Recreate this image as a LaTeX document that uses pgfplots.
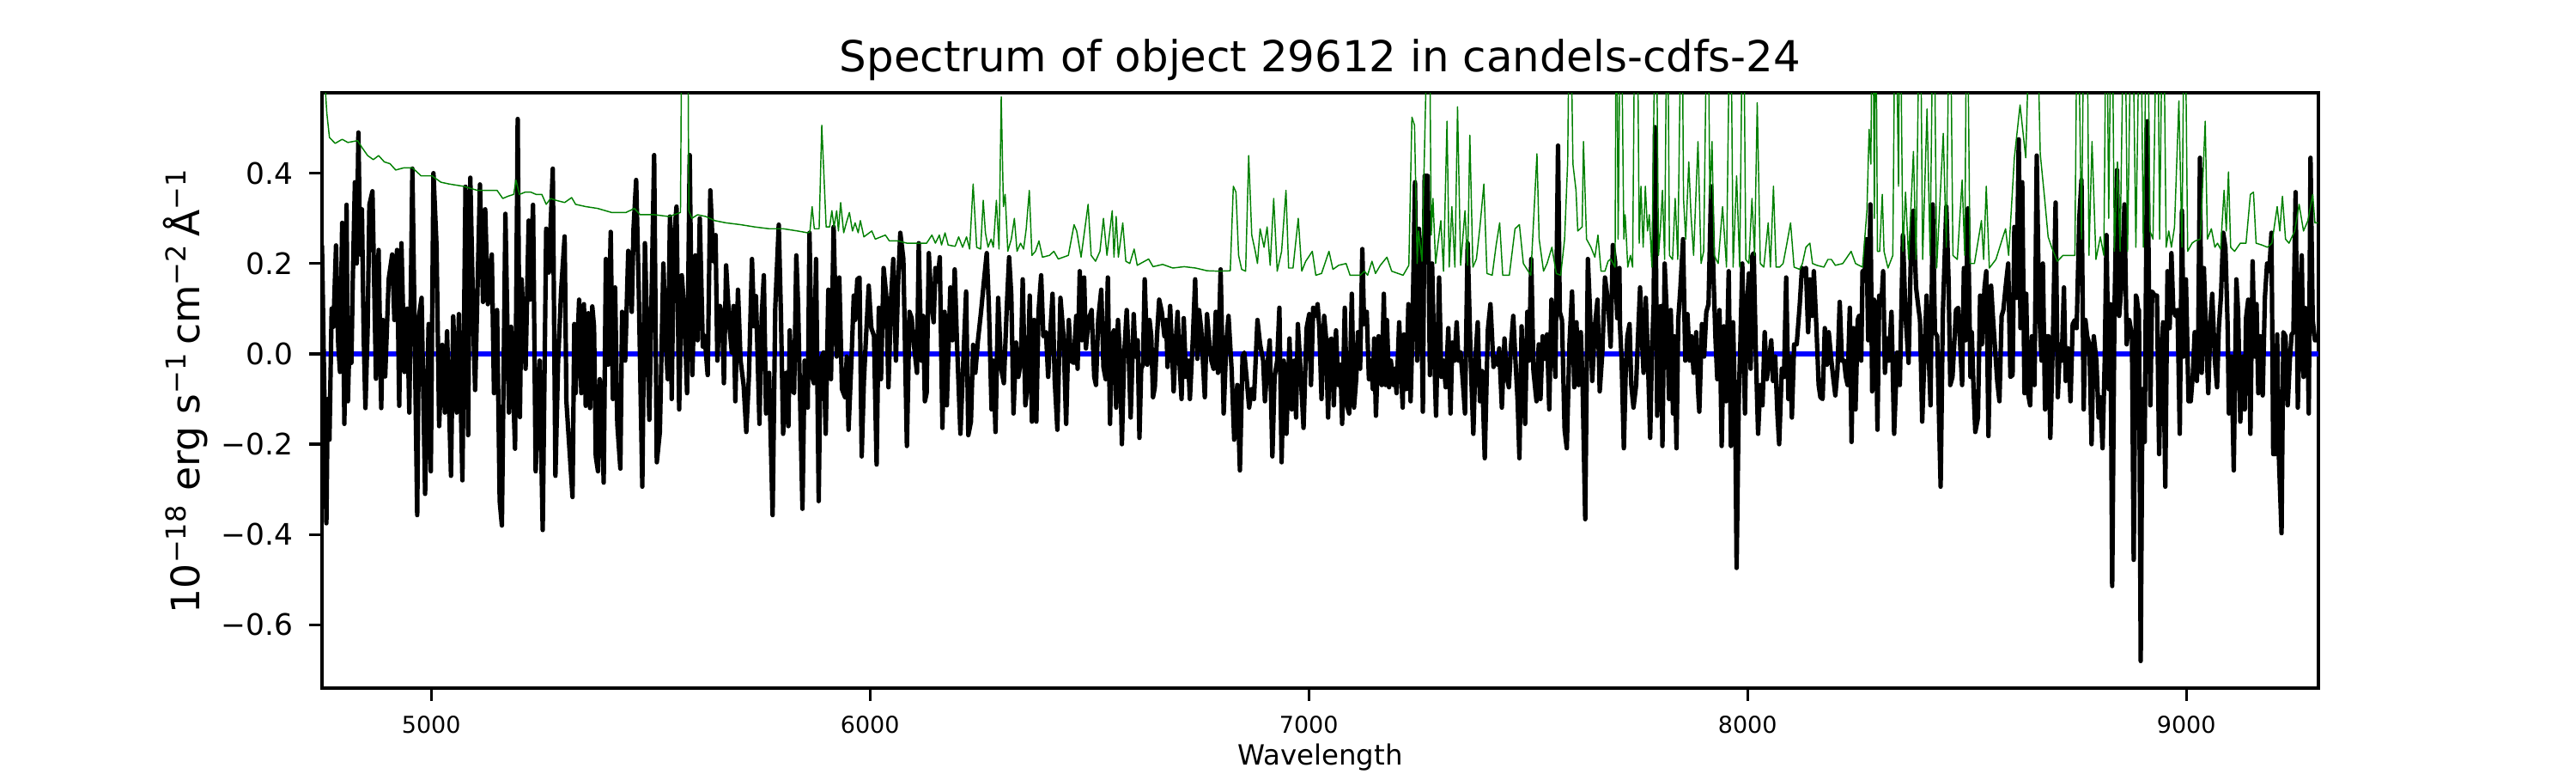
\documentclass[border=0pt]{standalone}
\usepackage{fontspec}
\setmainfont{DejaVu Sans}
\usepackage{pgfplots}
\pgfplotsset{compat=1.18}
\definecolor{mplgreen}{RGB}{0,128,0}
\definecolor{mplblue}{RGB}{0,0,255}
\begin{document}
\begin{tikzpicture}
\begin{axis}[
  at={(0,0)}, anchor=south west,
  scale only axis, width=7.75in, height=2.31in,
  xmin=4751, xmax=9301, ymin=-0.740, ymax=0.578,
  axis line style={line width=0.8pt},
  tick style={line width=0.8pt, black},
  major tick length=3.5pt, tick align=outside,
  xtick pos=bottom, ytick pos=left,
  xtick={5000,6000,7000,8000,9000},
  xticklabels={5000,6000,7000,8000,9000},
  ytick={-0.6,-0.4,-0.2,0,0.2,0.4},
  yticklabels={−0.6,−0.4,−0.2,0.0,0.2,0.4},
  xticklabel style={font=\fontsize{6.5}{7}\selectfont, anchor=base, inner sep=0pt, yshift=-9.2pt},
  yticklabel style={font=\fontsize{8.3}{9}\selectfont, anchor=east, inner sep=0pt, xshift=-4.4pt},
  every axis title/.style={at={(axis description cs:0.5,1)}, anchor=base, yshift=6pt, font=\fontsize{12}{14}\selectfont},
  every axis x label/.style={at={(axis description cs:0.5,0)}, anchor=base, yshift=-21.6pt, font=\fontsize{7.8}{9}\selectfont},
  every axis y label/.style={at={(axis description cs:0,0.5)}, rotate=90, anchor=base, yshift=34.3pt, font=\fontsize{11}{13}\selectfont},
  title={Spectrum of object 29612 in candels-cdfs-24},
  xlabel={Wavelength},
  ylabel={10\textsuperscript{−18} erg s\textsuperscript{−1}\,cm\textsuperscript{−2}\,Å\textsuperscript{−1}},
]
\addplot[mplblue, line width=1.5pt, forget plot] coordinates {(4751,0) (9301,0)};
\addplot[black, line width=1.25pt, line join=round] coordinates {
(4751,0.24) (4761,-0.375) (4764,-0.10) (4768,-0.19) (4773,0.10) (4777,0.06) (4783,0.24) (4788,0.02) (4792,-0.04) (4797,0.29)
(4802,-0.155) (4807,0.33) (4810,-0.105) (4815,0.08) (4818,-0.02) (4821,0.155) (4826,0.38) (4830,0.20) (4834,0.49) (4838,0.22)
(4842,0.32) (4846,0.04) (4850,-0.12) (4855,0.055) (4859,0.33) (4866,0.36) (4874,-0.055) (4880,0.23) (4886,-0.12) (4890,0.075)
(4895,-0.05) (4903,0.165) (4911,0.22) (4916,0.075) (4922,0.23) (4927,-0.115) (4932,0.245) (4939,-0.04) (4945,0.10) (4950,-0.13)
(4957,0.41) (4968,-0.357) (4972,0.083) (4978,0.124) (4986,-0.31) (4994,0.066) (4999,-0.26) (5005,0.40) (5012,0.24) (5018,-0.16)
(5025,0.02) (5031,-0.13) (5036,0.05) (5045,-0.27) (5050,0.083) (5058,-0.13) (5063,0.088) (5071,-0.28) (5078,0.37) (5084,-0.18)
(5089,0.39) (5097,0.02) (5100,-0.08) (5111,0.375) (5118,0.115) (5123,0.32) (5129,0.11) (5138,0.22) (5143,-0.087) (5150,0.097)
(5156,-0.326) (5161,-0.38) (5169,0.31) (5177,-0.13) (5182,0.06) (5191,-0.21) (5197,0.52) (5202,-0.14) (5206,0.165) (5215,-0.033)
(5222,0.295) (5225,0.12) (5232,0.33) (5238,-0.26) (5247,-0.015) (5254,-0.39) (5262,0.277) (5268,0.18) (5277,0.41) (5283,-0.27)
(5289,-0.02) (5296,0.14) (5304,0.26) (5308,-0.105) (5322,-0.317) (5326,0.066) (5329,-0.087) (5337,0.12) (5342,-0.087) (5348,0.11)
(5352,-0.115) (5358,0.09) (5362,-0.12) (5367,0.105) (5371,0.06) (5375,-0.227) (5380,-0.26) (5384,-0.056) (5388,-0.092) (5393,-0.285)
(5398,0.21) (5403,-0.024) (5409,0.27) (5414,-0.10) (5419,0.147) (5424,-0.155) (5431,-0.254) (5435,0.093) (5442,-0.015) (5449,0.228)
(5457,0.093) (5461,0.277) (5467,0.385) (5473,0.138) (5481,-0.294) (5487,0.245) (5497,-0.146) (5508,0.44) (5514,-0.24) (5521,-0.173)
(5529,0.20) (5535,0.02) (5539,-0.056) (5544,0.304) (5548,-0.10) (5553,0.255) (5559,0.326) (5565,-0.123) (5571,0.174) (5577,0.093)
(5583,-0.087) (5589,0.44) (5595,-0.047) (5602,0.218) (5607,0.03) (5612,0.30) (5619,0.016) (5623,0.04) (5630,-0.047) (5636,0.362)
(5643,0.205) (5648,0.263) (5652,-0.015) (5658,0.106) (5663,0.084) (5667,-0.065) (5672,0.196) (5680,0.057) (5685,0.003) (5689,0.106)
(5693,-0.105) (5699,0.142) (5705,-0.015) (5712,-0.07) (5718,-0.173) (5724,-0.05) (5731,0.21) (5736,0.061) (5740,0.128) (5748,-0.155)
(5753,0.08) (5758,0.174) (5763,-0.132) (5770,-0.042) (5778,-0.357) (5784,0.102) (5792,0.286) (5797,0.084) (5802,-0.177) (5809,-0.042)
(5814,-0.16) (5817,0.052) (5822,-0.078) (5827,-0.087) (5832,0.218) (5836,0.11) (5846,-0.343) (5851,-0.015) (5858,-0.119) (5862,0.268)
(5868,-0.05) (5872,-0.065) (5877,0.21) (5883,-0.326) (5887,-0.015) (5894,0.003) (5899,-0.177) (5905,0.142) (5911,-0.056) (5917,0.281)
(5924,-0.006) (5930,0.169) (5936,-0.078) (5943,-0.096) (5947,-0.006) (5951,-0.168) (5958,-0.006) (5963,0.129) (5966,0.075) (5971,0.165)
(5976,0.169) (5981,-0.227) (5986,-0.06) (5991,0.039) (5997,0.151) (6003,0.057) (6009,0.04) (6015,-0.245) (6020,0.102) (6025,-0.056)
(6031,0.19) (6037,0.129) (6042,-0.074) (6048,0.124) (6053,0.21) (6059,-0.015) (6064,0.156) (6069,0.268) (6076,0.21) (6084,-0.204)
(6090,0.093) (6095,0.079) (6100,0.02) (6107,-0.042) (6111,0.245) (6117,-0.015) (6121,0.084) (6125,-0.105) (6129,-0.087) (6134,0.223)
(6140,0.11) (6145,0.07) (6149,0.19) (6154,0.16) (6159,0.214) (6165,-0.164) (6170,0.093) (6175,-0.114) (6183,0.147) (6188,0.03)
(6193,0.187) (6198,0.03) (6206,-0.177) (6213,-0.006) (6219,0.138) (6224,-0.18) (6230,-0.15) (6235,0.02) (6240,-0.042) (6246,0.03)
(6253,0.093) (6260,0.165) (6266,0.223) (6271,0.102) (6277,-0.123) (6281,-0.015) (6286,-0.173) (6292,0.124) (6299,-0.033) (6305,-0.065)
(6312,0.11) (6317,0.214) (6322,0.129) (6327,-0.132) (6333,0.025) (6338,-0.051) (6344,-0.015) (6348,0.165) (6354,-0.114) (6359,-0.069)
(6364,0.129) (6369,-0.15) (6374,0.075) (6379,-0.15) (6384,0.093) (6390,0.174) (6395,0.039) (6401,0.048) (6406,-0.051) (6411,0.048)
(6416,0.133) (6421,-0.06) (6427,-0.168) (6434,0.124) (6441,0.039) (6447,-0.155) (6453,0.075) (6458,-0.015) (6464,-0.02) (6470,0.084)
(6473,-0.033) (6478,0.183) (6483,0.03) (6488,0.169) (6492,0.012) (6498,0.075) (6505,0.097) (6511,-0.051) (6515,-0.069) (6520,0.075)
(6527,0.142) (6532,-0.029) (6537,-0.056) (6542,0.169) (6547,-0.155) (6551,0.039) (6556,0.052) (6561,-0.119) (6565,0.075) (6570,-0.006)
(6574,-0.20) (6579,-0.006) (6585,0.097) (6590,-0.015) (6594,-0.141) (6601,0.088) (6605,-0.006) (6610,0.03) (6614,-0.186) (6618,-0.033)
(6622,-0.024) (6626,0.165) (6632,-0.024) (6637,0.075) (6641,0.039) (6645,-0.096) (6649,-0.074) (6654,0.039) (6659,0.12) (6665,0.093)
(6671,0.039) (6675,0.075) (6678,-0.029) (6684,0.106) (6689,-0.006) (6692,-0.083) (6697,0.03) (6701,0.093) (6705,-0.015) (6710,-0.10)
(6715,0.079) (6720,-0.051) (6725,-0.015) (6729,-0.10) (6736,0.039) (6741,0.165) (6746,-0.011) (6750,0.097) (6755,0.052) (6763,-0.096)
(6768,0.088) (6774,0.016) (6778,-0.015) (6783,-0.033) (6788,0.093) (6793,-0.042) (6799,0.187) (6806,-0.132) (6812,0.025) (6817,0.084)
(6824,-0.033) (6830,-0.19) (6837,-0.069) (6843,-0.258) (6849,-0.006) (6853,0.003) (6858,-0.051) (6864,-0.119) (6870,-0.078) (6875,-0.10)
(6883,0.075) (6889,0.021) (6896,-0.015) (6900,-0.105) (6905,-0.033) (6911,0.03) (6917,-0.227) (6922,-0.051) (6928,-0.015) (6933,0.102)
(6938,-0.24) (6943,-0.015) (6949,-0.177) (6956,0.034) (6961,-0.123) (6967,-0.015) (6971,-0.141) (6975,0.066) (6980,-0.015) (6988,-0.164)
(6995,0.057) (7001,0.088) (7005,-0.069) (7010,0.102) (7016,0.084) (7020,0.11) (7024,0.057) (7029,-0.10) (7035,0.084) (7039,0.039)
(7044,-0.141) (7048,0.03) (7052,0.034) (7057,-0.114) (7062,0.052) (7067,-0.069) (7072,-0.024) (7076,-0.155) (7082,0.102) (7087,-0.114)
(7092,-0.132) (7098,0.133) (7103,-0.119) (7108,-0.056) (7112,0.048) (7117,-0.033) (7122,0.232) (7126,0.066) (7132,0.093) (7137,-0.056)
(7142,-0.015) (7146,-0.078) (7149,0.034) (7153,-0.137) (7159,0.039) (7163,-0.033) (7166,-0.069) (7171,0.133) (7175,-0.069) (7178,0.075)
(7183,-0.074) (7187,-0.015) (7193,-0.069) (7196,-0.033) (7200,-0.087) (7206,0.07) (7210,-0.033) (7214,-0.119) (7217,0.043) (7222,-0.078)
(7227,0.11) (7232,-0.105) (7236,0.039) (7242,0.38) (7247,-0.015) (7251,0.277) (7255,0.2) (7260,-0.128) (7264,0.394) (7271,0.394)
(7276,-0.047) (7281,0.2) (7285,0.03) (7290,-0.137) (7297,0.169) (7302,-0.051) (7307,-0.015) (7312,-0.074) (7318,0.057) (7323,-0.132)
(7327,0.025) (7332,-0.015) (7337,0.07) (7341,-0.015) (7346,0.003) (7350,-0.047) (7356,-0.132) (7362,0.245) (7369,-0.015) (7375,-0.177)
(7380,-0.006) (7385,0.07) (7390,-0.105) (7395,-0.038) (7401,-0.231) (7408,0.052) (7414,0.11) (7421,-0.029) (7426,-0.006) (7431,-0.024)
(7434,0.012) (7440,-0.119) (7446,0.034) (7451,-0.051) (7456,-0.074) (7461,0.021) (7466,0.084) (7471,-0.015) (7476,-0.105) (7480,-0.231)
(7485,0.061) (7489,-0.069) (7493,-0.155) (7498,0.093) (7502,-0.015) (7507,0.21) (7512,-0.038) (7519,-0.105) (7524,0.021) (7528,-0.1)
(7533,0.039) (7538,-0.011) (7543,0.043) (7548,-0.123) (7553,0.12) (7558,0.021) (7562,-0.051) (7568,0.461) (7572,0.093) (7577,0.075)
(7583,-0.168) (7588,-0.209) (7594,0.021) (7600,0.138) (7605,-0.074) (7610,0.07) (7615,-0.069) (7620,0.048) (7624,-0.069) (7630,-0.366)
(7636,0.21) (7641,0.093) (7646,-0.06) (7652,0.061) (7658,0.12) (7663,-0.083) (7669,0.003) (7675,0.169) (7682,0.115) (7688,0.016)
(7693,0.241) (7698,0.205) (7703,0.079) (7708,0.19) (7709,0.066) (7713,-0.015) (7718,-0.209) (7722,-0.051) (7726,0.039) (7731,0.066)
(7735,-0.069) (7740,-0.119) (7746,-0.069) (7750,0.03) (7755,0.147) (7759,0.039) (7763,-0.042) (7768,0.124) (7773,-0.015) (7778,-0.186)
(7782,0.003) (7786,0.11) (7789,0.502) (7794,-0.137) (7798,0.102) (7802,0.106) (7806,-0.204) (7811,0.2) (7816,0.084) (7821,-0.1)
(7825,0.097) (7830,-0.132) (7833,0.039) (7838,-0.209) (7842,0.075) (7847,0.147) (7853,0.254) (7858,-0.015) (7863,0.088) (7868,-0.015)
(7872,0.039) (7877,-0.042) (7883,0.048) (7887,-0.078) (7890,-0.128) (7896,0.066) (7901,-0.006) (7906,0.093) (7911,0.11) (7917,0.371)
(7922,0.183) (7927,0.03) (7931,-0.056) (7936,0.097) (7941,-0.204) (7946,0.061) (7951,-0.105) (7957,0.183) (7962,-0.204) (7967,0.07)
(7972,-0.141) (7975,-0.474) (7980,-0.096) (7984,0.039) (7988,0.2) (7994,-0.132) (7998,0.097) (8003,0.178) (8007,-0.033) (8011,0.218)
(8014,0.223) (8019,-0.006) (8024,-0.177) (8029,-0.069) (8034,-0.114) (8039,0.048) (8044,-0.056) (8049,-0.015) (8054,0.03) (8058,-0.06)
(8063,-0.006) (8068,-0.132) (8072,-0.2) (8078,-0.033) (8083,-0.051) (8088,0.169) (8093,-0.1) (8097,-0.006) (8101,-0.141) (8106,0.021)
(8112,0.021) (8119,0.11) (8124,0.19) (8129,0.174) (8133,0.19) (8138,0.048) (8142,0.165) (8147,0.084) (8151,0.183) (8157,0.057)
(8162,-0.069) (8166,-0.096) (8171,-0.1) (8176,0.057) (8181,-0.024) (8185,0.048) (8191,-0.015) (8195,-0.051) (8200,-0.092) (8205,-0.033)
(8210,0.115) (8215,-0.015) (8220,-0.015) (8224,-0.051) (8228,-0.069) (8233,0.102) (8237,-0.195) (8241,0.057) (8246,-0.123) (8251,0.075)
(8254,0.084) (8259,-0.015) (8262,0.183) (8267,0.183) (8271,0.254) (8275,0.03) (8280,0.331) (8284,-0.083) (8288,0.12) (8292,0.11)
(8296,-0.168) (8300,0.129) (8305,0.11) (8309,0.183) (8313,-0.042) (8318,0.034) (8322,-0.015) (8328,0.093) (8334,-0.177) (8341,0.003)
(8347,-0.069) (8354,0.263) (8360,0.084) (8367,-0.02) (8373,0.259) (8378,0.317) (8384,0.147) (8390,0.097) (8393,0.075) (8398,-0.15)
(8403,-0.006) (8408,0.129) (8412,0.021) (8417,-0.114) (8422,0.331) (8427,0.048) (8432,0.039) (8440,-0.294) (8445,0.088) (8453,0.326)
(8458,0.165) (8462,-0.069) (8467,-0.051) (8471,0.021) (8475,0.097) (8480,0.102) (8484,0.03) (8489,-0.069) (8493,0.19) (8497,0.03)
(8502,0.322) (8508,-0.051) (8511,0.048) (8515,-0.078) (8519,-0.173) (8525,-0.141) (8530,0.129) (8534,0.021) (8540,0.147) (8544,0.183)
(8549,-0.182) (8555,0.151) (8559,0.084) (8564,0.012) (8569,-0.06) (8574,-0.105) (8579,0.084) (8583,0.097) (8588,0.147) (8594,0.2)
(8599,-0.051) (8604,-0.047) (8608,0.281) (8613,0.124) (8618,0.475) (8622,0.057) (8626,0.38) (8631,-0.087) (8635,0.133) (8639,-0.087)
(8644,-0.114) (8648,0.039) (8654,-0.069) (8659,0.439) (8664,0.11) (8670,-0.015) (8673,0.2) (8678,-0.123) (8682,0.039) (8686,0.039)
(8690,-0.186) (8696,0.039) (8702,0.335) (8707,-0.096) (8712,0.021) (8716,-0.015) (8721,0.147) (8725,-0.06) (8731,0.012) (8736,-0.105)
(8741,0.066) (8746,0.075) (8750,0.057) (8756,0.3) (8761,0.385) (8766,-0.123) (8770,0.075) (8774,0.039) (8779,0.021) (8784,-0.2)
(8789,0.039) (8795,-0.015) (8800,-0.141) (8804,-0.096) (8809,-0.209) (8814,-0.015) (8818,0.263) (8823,-0.078) (8827,0.11) (8831,-0.514)
(8836,0.084) (8842,0.407) (8847,0.084) (8853,0.165) (8859,0.331) (8864,0.021) (8870,0.075) (8876,0.039) (8880,-0.456) (8885,0.129)
(8887,0.124) (8890,0.097) (8892,0.097) (8896,-0.68) (8900,-0.078) (8905,-0.195) (8911,0.515) (8915,0.11) (8918,-0.114) (8922,0.138)
(8928,0.129) (8933,0.129) (8938,-0.222) (8942,-0.015) (8947,0.07) (8952,-0.294) (8957,0.183) (8962,0.057) (8966,0.223) (8970,0.102)
(8975,0.084) (8980,0.097) (8985,-0.177) (8990,0.317) (8994,-0.006) (8999,0.165) (9005,-0.105) (9010,-0.105) (9015,-0.042) (9019,0.048)
(9024,-0.06) (9027,0.039) (9031,0.434) (9035,-0.042) (9040,0.19) (9045,0.039) (9050,-0.087) (9055,0.075) (9059,0.133) (9065,-0.015)
(9070,-0.074) (9074,0.057) (9079,0.129) (9084,0.268) (9089,0.236) (9094,0.066) (9097,-0.132) (9103,-0.006) (9108,-0.258) (9114,0.165)
(9118,0.093) (9123,-0.15) (9129,-0.006) (9133,-0.123) (9136,0.079) (9141,0.12) (9146,-0.177) (9151,0.205) (9156,-0.006) (9160,0.11)
(9164,-0.087) (9169,0.039) (9174,-0.092) (9179,0.124) (9184,0.2) (9189,0.183) (9194,0.268) (9198,-0.222) (9203,-0.222) (9207,0.043)
(9211,-0.231) (9217,-0.397) (9221,0.048) (9226,0.039) (9231,-0.114) (9236,-0.011) (9240,0.043) (9244,0.048) (9249,0.358) (9254,-0.119)
(9259,0.11) (9263,0.218) (9267,-0.051) (9271,0.102) (9275,0.097) (9279,-0.132) (9283,0.434) (9288,0.075) (9293,0.03) (9300,0.03)
};
\addplot[mplgreen, line width=0.35pt, line join=round] coordinates {
(4751,0.75) (4759,0.58) (4762,0.533) (4768,0.479) (4781,0.466) (4797,0.475) (4810,0.468) (4832,0.472) (4842,0.457) (4855,0.439)
(4868,0.43) (4880,0.439) (4893,0.425) (4906,0.421) (4919,0.407) (4938,0.412) (4957,0.412) (4977,0.394) (5002,0.394) (5022,0.38)
(5041,0.376) (5073,0.371) (5105,0.362) (5124,0.362) (5150,0.362) (5163,0.344) (5175,0.349) (5188,0.353) (5193,0.385) (5201,0.353)
(5214,0.358) (5227,0.358) (5239,0.353) (5252,0.353) (5262,0.331) (5272,0.344) (5284,0.34) (5304,0.335) (5320,0.346) (5329,0.331)
(5352,0.326) (5379,0.322) (5411,0.313) (5444,0.313) (5463,0.322) (5476,0.308) (5509,0.308) (5542,0.304) (5568,0.313) (5572,0.9)
(5577,0.9) (5584,0.9) (5587,0.317) (5594,0.30) (5607,0.308) (5626,0.304) (5646,0.295) (5672,0.29) (5705,0.286) (5737,0.281)
(5770,0.277) (5802,0.277) (5835,0.272) (5858,0.268) (5863,0.27) (5868,0.326) (5873,0.277) (5884,0.277) (5890,0.506) (5895,0.394)
(5900,0.281) (5908,0.281) (5913,0.317) (5918,0.281) (5924,0.317) (5928,0.272) (5933,0.335) (5940,0.268) (5946,0.29) (5953,0.313)
(5960,0.272) (5966,0.29) (5973,0.268) (5978,0.295) (5986,0.259) (6004,0.272) (6012,0.254) (6035,0.263) (6044,0.25) (6064,0.25)
(6084,0.245) (6110,0.245) (6129,0.245) (6141,0.263) (6149,0.245) (6158,0.263) (6163,0.241) (6171,0.268) (6178,0.241) (6194,0.238)
(6202,0.259) (6211,0.236) (6220,0.259) (6227,0.232) (6235,0.376) (6243,0.236) (6252,0.232) (6258,0.34) (6263,0.268) (6269,0.236)
(6276,0.254) (6281,0.236) (6288,0.34) (6294,0.232) (6299,0.569) (6304,0.326) (6308,0.353) (6314,0.227) (6322,0.254) (6329,0.30)
(6335,0.227) (6343,0.245) (6350,0.232) (6356,0.277) (6363,0.362) (6369,0.218) (6377,0.227) (6385,0.25) (6393,0.214) (6409,0.218)
(6419,0.227) (6429,0.21) (6452,0.218) (6465,0.286) (6471,0.272) (6481,0.214) (6497,0.331) (6504,0.218) (6514,0.205) (6524,0.227)
(6532,0.30) (6540,0.218) (6552,0.317) (6556,0.214) (6561,0.304) (6566,0.214) (6576,0.29) (6583,0.205) (6592,0.20) (6602,0.232)
(6609,0.196) (6635,0.21) (6645,0.193) (6667,0.198) (6690,0.19) (6716,0.193) (6742,0.19) (6768,0.184) (6795,0.183) (6821,0.184)
(6828,0.371) (6834,0.358) (6840,0.218) (6847,0.187) (6856,0.183) (6863,0.439) (6870,0.263) (6878,0.227) (6883,0.20) (6889,0.277)
(6898,0.236) (6905,0.281) (6912,0.196) (6920,0.344) (6928,0.183) (6938,0.227) (6948,0.362) (6954,0.19) (6964,0.19) (6976,0.30)
(6984,0.183) (6993,0.205) (7008,0.227) (7016,0.174) (7029,0.178) (7046,0.227) (7055,0.187) (7068,0.196) (7085,0.20) (7094,0.174)
(7117,0.174) (7127,0.183) (7134,0.174) (7144,0.205) (7152,0.178) (7163,0.196) (7178,0.214) (7189,0.183) (7215,0.174) (7228,0.196)
(7235,0.524) (7241,0.506) (7247,0.20) (7250,0.272) (7258,0.205) (7274,0.9) (7279,0.263) (7283,0.344) (7289,0.20) (7294,0.241)
(7301,0.295) (7307,0.183) (7315,0.515) (7320,0.192) (7326,0.326) (7333,0.192) (7339,0.547) (7346,0.196) (7356,0.317) (7362,0.196)
(7367,0.484) (7374,0.192) (7382,0.21) (7390,0.281) (7399,0.376) (7406,0.178) (7418,0.174) (7427,0.241) (7435,0.29) (7442,0.174)
(7457,0.174) (7470,0.277) (7480,0.286) (7489,0.20) (7506,0.174) (7520,0.443) (7525,0.254) (7535,0.183) (7543,0.20) (7554,0.236)
(7564,0.178) (7574,0.174) (7583,0.254) (7590,0.425) (7595,0.9) (7602,0.42) (7609,0.362) (7613,0.272) (7623,0.281) (7626,0.47)
(7633,0.254) (7643,0.236) (7652,0.214) (7659,0.263) (7666,0.183) (7675,0.183) (7682,0.205) (7688,0.21) (7698,0.192) (7701,0.9)
(7705,0.254) (7711,0.9) (7718,0.254) (7721,0.308) (7727,0.192) (7733,0.218) (7738,0.192) (7744,0.9) (7748,0.9) (7753,0.245)
(7757,0.371) (7762,0.236) (7767,0.371) (7772,0.272) (7776,0.308) (7782,0.192) (7791,0.9) (7797,0.218) (7801,0.272) (7806,0.362)
(7811,0.209) (7817,0.9) (7822,0.218) (7829,0.209) (7835,0.344) (7841,0.209) (7850,0.9) (7854,0.344) (7859,0.254) (7866,0.425)
(7871,0.308) (7877,0.218) (7887,0.47) (7894,0.20) (7900,0.227) (7909,0.9) (7914,0.344) (7919,0.47) (7924,0.218) (7933,0.20)
(7943,0.326) (7952,0.192) (7961,0.9) (7967,0.192) (7975,0.394) (7982,0.192) (7990,0.9) (7996,0.209) (8003,0.20) (8010,0.344)
(8016,0.218) (8022,0.556) (8029,0.20) (8037,0.192) (8047,0.29) (8052,0.192) (8059,0.371) (8065,0.192) (8073,0.192) (8081,0.20)
(8089,0.241) (8098,0.29) (8106,0.192) (8119,0.187) (8125,0.20) (8133,0.236) (8142,0.245) (8148,0.20) (8158,0.196) (8174,0.192)
(8183,0.209) (8191,0.209) (8200,0.196) (8217,0.20) (8236,0.227) (8246,0.20) (8262,0.192) (8272,0.317) (8277,0.497) (8281,0.42)
(8285,0.9) (8289,0.30) (8292,0.9) (8296,0.227) (8301,0.227) (8307,0.353) (8311,0.227) (8320,0.19) (8331,0.218) (8337,0.9)
(8344,0.371) (8347,0.9) (8354,0.227) (8360,0.358) (8367,0.209) (8378,0.448) (8384,0.209) (8393,0.9) (8399,0.209) (8409,0.542)
(8416,0.218) (8424,0.9) (8431,0.19) (8446,0.488) (8453,0.236) (8461,0.9) (8468,0.218) (8478,0.209) (8489,0.385) (8495,0.218)
(8500,0.9) (8507,0.20) (8517,0.20) (8533,0.295) (8538,0.209) (8544,0.371) (8551,0.19) (8566,0.209) (8582,0.259) (8588,0.277)
(8595,0.218) (8608,0.434) (8621,0.551) (8634,0.434) (8647,0.9) (8657,0.9) (8667,0.443) (8677,0.344) (8685,0.259) (8693,0.236)
(8706,0.205) (8719,0.218) (8732,0.218) (8746,0.218) (8752,0.9) (8761,0.254) (8768,0.9) (8773,0.9) (8778,0.218) (8785,0.47)
(8794,0.209) (8804,0.259) (8812,0.218) (8818,0.9) (8823,0.30) (8830,0.9) (8836,0.227) (8843,0.425) (8849,0.227) (8859,0.9)
(8866,0.227) (8876,0.9) (8885,0.236) (8895,0.9) (8902,0.236) (8911,0.9) (8917,0.272) (8924,0.254) (8934,0.9) (8939,0.254)
(8947,0.9) (8954,0.236) (8960,0.272) (8966,0.236) (8973,0.281) (8983,0.56) (8990,0.236) (8996,0.9) (9003,0.227) (9013,0.245)
(9020,0.25) (9032,0.254) (9043,0.515) (9048,0.254) (9057,0.277) (9065,0.236) (9071,0.245) (9078,0.232) (9086,0.362) (9091,0.272)
(9096,0.403) (9101,0.236) (9110,0.227) (9123,0.245) (9136,0.245) (9146,0.353) (9153,0.358) (9159,0.245) (9172,0.241) (9185,0.236)
(9195,0.245) (9207,0.326) (9213,0.272) (9219,0.349) (9226,0.254) (9234,0.245) (9247,0.272) (9257,0.331) (9267,0.272) (9277,0.295)
(9288,0.353) (9293,0.29) (9300,0.29)
};
\end{axis}
\pgfresetboundingbox
\path[use as bounding box] (-1.25in,-0.33in) rectangle (8.75in,2.67in);
\end{tikzpicture}
\end{document}
